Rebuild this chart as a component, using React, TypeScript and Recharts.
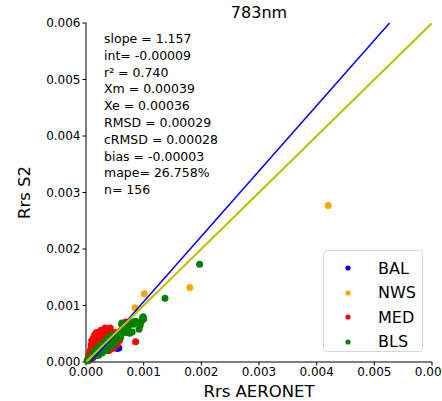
import { ScatterChart, Scatter, XAxis, YAxis, ReferenceLine, Legend } from 'recharts';

// stats from the fit
const slope = 1.157;
const intercept = -0.00009;
const statLines = [
  'slope = 1.157',
  'int= -0.00009',
  'r² = 0.740',
  'Xm = 0.00039',
  'Xe = 0.00036',
  'RMSD = 0.00029',
  'cRMSD = 0.00028',
  'bias = -0.00003',
  'mape= 26.758%',
  'n= 156',
];

const ticks = [0, 0.001, 0.002, 0.003, 0.004, 0.005, 0.006];

// [Rrs AERONET, Rrs S2]
const bal = [
  [0.00008, 0.00005], [0.00012, 0.00008], [0.00015, 0.00011], [0.00022, 0.00018],
  [0.00026, 0.0002], [0.00031, 0.00034], [0.00038, 0.00028], [0.00045, 0.0003],
  [0.0005, 0.00046], [0.00054, 0.00024], [0.00057, 0.00025], [0.00066, 0.00055],
];

const nws = [
  [0.0042, 0.00277], [0.0018, 0.00132], [0.00101, 0.00121], [0.00085, 0.00096],
  [0.00045, 0.00042], [0.0003, 0.00026], [0.0002, 0.00016], [0.00012, 0.0001],
  [0.00005, 0.00004],
];

const med = [
  [0.00003, 0.00005], [0.00005, 0.0001], [0.00006, 0.00016], [0.00008, 0.00022],
  [0.00009, 0.0003], [0.0001, 0.00038], [0.00011, 0.00013], [0.00012, 0.00026],
  [0.00013, 0.00043], [0.00014, 0.00033], [0.00015, 0.00019], [0.00017, 0.00038],
  [0.00018, 0.00027], [0.00019, 0.00045], [0.0002, 0.00033], [0.00022, 0.0005],
  [0.00023, 0.00024], [0.00024, 0.0004], [0.00025, 0.00031], [0.00027, 0.00046],
  [0.00028, 0.00036], [0.00029, 0.00025], [0.0003, 0.00052], [0.00031, 0.00041],
  [0.00032, 0.0003], [0.00034, 0.00047], [0.00035, 0.00036], [0.00036, 0.00026],
  [0.00037, 0.00055], [0.00038, 0.00042], [0.0004, 0.00031], [0.00041, 0.0005],
  [0.00042, 0.0006], [0.00043, 0.00038], [0.00045, 0.00027], [0.00046, 0.00045],
  [0.00048, 0.00033], [0.0005, 0.00052], [0.00052, 0.0004], [0.00054, 0.00031],
  [0.00056, 0.00046], [0.00058, 0.00038], [0.0006, 0.00055], [0.00069, 0.00071],
  [0.00075, 0.00071], [0.00086, 0.00036], [0.00062, 0.00066], [0.00004, 0.00002],
  [0.00007, 0.00008], [0.0001, 0.00005], [0.00016, 0.00011], [0.00021, 0.00015],
  [0.00026, 0.00019], [0.00033, 0.00022], [0.00039, 0.0002], [0.00044, 0.00023],
  [0.00049, 0.00026], [0.00026, 0.00056], [0.00033, 0.0006], [0.00018, 0.00052],
  [0.00015, 0.00048], [0.0002, 0.0004],
];

const bls = [
  [0.00002, 0.00002], [0.00004, 0.00005], [0.00006, 0.00004], [0.00008, 0.00008],
  [0.0001, 0.00009], [0.00012, 0.00012], [0.00014, 0.00011], [0.00016, 0.00015],
  [0.00018, 0.00014], [0.00019, 0.00016], [0.00021, 0.00019], [0.00023, 0.00017],
  [0.00025, 0.00022], [0.00027, 0.0002], [0.00029, 0.00024], [0.00031, 0.00023],
  [0.00033, 0.00027], [0.00035, 0.0003], [0.00037, 0.00026], [0.00039, 0.00033],
  [0.00041, 0.00036], [0.00043, 0.00031], [0.00045, 0.00039], [0.00047, 0.00042],
  [0.00049, 0.00036], [0.00051, 0.0004], [0.00053, 0.00041], [0.00055, 0.00047],
  [0.00058, 0.0005], [0.0006, 0.00044], [0.00062, 0.00069], [0.00064, 0.00052],
  [0.00067, 0.00056], [0.0007, 0.00052], [0.00072, 0.00054], [0.00076, 0.00051],
  [0.0008, 0.00053], [0.00081, 0.00071], [0.00083, 0.00067], [0.00086, 0.00072],
  [0.00092, 0.00058], [0.00095, 0.00071], [0.00097, 0.00074], [0.00098, 0.00078],
  [0.00099, 0.0008], [0.001, 0.00076], [0.00094, 0.00065], [0.00137, 0.00113],
  [0.00197, 0.00173], [0.00015, 0.0002], [0.0002, 0.00026], [0.00026, 0.00031],
  [0.00032, 0.00036], [0.00038, 0.00042], [0.00044, 0.00048], [0.00011, 0.00014],
  [0.00022, 0.00012], [0.00028, 0.00016], [0.00034, 0.0002], [0.0004, 0.00026],
  [0.00048, 0.0003], [0.00065, 0.00062], [0.00074, 0.00064],
];

const series = [
  { name: 'BAL', color: '#0000ff', pts: bal },
  { name: 'NWS', color: '#ffa500', pts: nws },
  { name: 'MED', color: '#ff0000', pts: med },
  { name: 'BLS', color: '#008000', pts: bls },
];

const FONT = '"DejaVu Sans", sans-serif';
const MAX = 0.006;

const toRows = (pts: number[][]) => pts.map(([x, y]) => ({ x, y }));

const dot = (color: string) => (props: any) => (
  <circle cx={props.cx} cy={props.cy} r={3.5} fill={color} />
);

const LegendBox = () => (
  <div
    style={{
      width: 100,
      height: 102,
      background: '#fff',
      border: '1px solid #d9d9d9',
      borderRadius: 4,
      boxSizing: 'border-box',
      fontFamily: FONT,
      fontSize: 16,
      color: '#000',
      paddingTop: 5,
    }}
  >
    {series.map((s) => (
      <div key={s.name} style={{ display: 'flex', alignItems: 'center', height: 24.5 }}>
        <svg width={54} height={10}>
          <circle cx={24} cy={5} r={2.6} fill={s.color} />
        </svg>
        <span>{s.name}</span>
      </div>
    ))}
  </div>
);

export default function App() {
  // regression line endpoints at y = 0 and y = MAX
  const fitX0 = -intercept / slope;
  const fitX1 = (MAX - intercept) / slope;
  const tickStyle = { fill: '#000', fontSize: 12, fontFamily: FONT };

  return (
    <div style={{ position: 'absolute', left: 0, top: 0, width: 442, height: 401, background: '#fff' }}>
      <div
        style={{
          position: 'absolute', left: 86, width: 346, top: 3, textAlign: 'center',
          fontFamily: FONT, fontSize: 16, color: '#000', lineHeight: '20px',
        }}
      >
        783nm
      </div>
      <ScatterChart width={442} height={401} margin={{ top: 23, right: 10, bottom: 0, left: 6 }}>
        <XAxis
          type="number" dataKey="x" domain={[0, MAX]} ticks={ticks} interval={0}
          tickFormatter={(v: number) => v.toFixed(3)} height={39}
          stroke="#000" tickSize={3.5} tick={tickStyle}
          label={{ value: 'Rrs AERONET', position: 'insideBottom', offset: 4, fill: '#000', fontSize: 16.5, fontFamily: FONT }}
        />
        <YAxis
          type="number" dataKey="y" domain={[0, MAX]} ticks={ticks} interval={0}
          tickFormatter={(v: number) => v.toFixed(3)} width={80}
          stroke="#000" tickSize={3.5} tick={tickStyle}
          label={{ value: 'Rrs S2', angle: -90, position: 'insideLeft', offset: 18, fill: '#000', fontSize: 16.5, fontFamily: FONT, style: { textAnchor: 'middle' } }}
        />
        <XAxis xAxisId="top" orientation="top" type="number" domain={[0, MAX]} height={0} tick={false} tickLine={false} stroke="#000" />
        <YAxis yAxisId="right" orientation="right" type="number" domain={[0, MAX]} width={0} tick={false} tickLine={false} stroke="#000" />
        {series.map((s) => (
          <Scatter
            key={s.name} name={s.name} data={toRows(s.pts)} fill={s.color}
            shape={dot(s.color)} isAnimationActive={false}
          />
        ))}
        <ReferenceLine
          segment={[{ x: fitX0, y: 0 }, { x: fitX1, y: MAX }]}
          stroke="#0000ff" strokeWidth={1.5} ifOverflow="hidden" zIndex={700}
        />
        <ReferenceLine
          segment={[{ x: 0, y: 0 }, { x: MAX, y: MAX }]}
          stroke="#bfbf00" strokeWidth={2} ifOverflow="hidden" zIndex={700}
        />
        <Legend
          layout="horizontal" verticalAlign="middle" align="center"
          wrapperStyle={{ left: 323, top: 250, width: 100, height: 102 }}
          content={() => <LegendBox />}
        />
      </ScatterChart>
      <div
        style={{
          position: 'absolute', left: 104, top: 31, fontFamily: FONT, fontSize: 12.5,
          lineHeight: '16.8px', color: '#000', whiteSpace: 'pre',
        }}
      >
        {statLines.map((l) => (
          <div key={l}>{l}</div>
        ))}
      </div>
    </div>
  );
}
